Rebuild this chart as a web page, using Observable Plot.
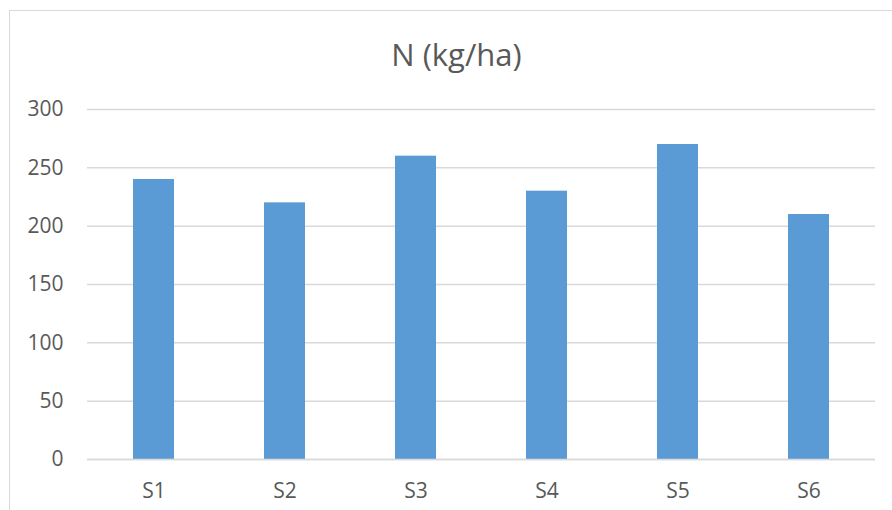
<!DOCTYPE html>
<html>
<head>
<meta charset="utf-8">
<script src="https://cdn.jsdelivr.net/npm/d3@7"></script>
<script src="https://cdn.jsdelivr.net/npm/@observablehq/plot@0.6"></script>
<style>
  body { margin: 0; background: #fff; }
  #wrap { position: relative; width: 892px; height: 510px; overflow: hidden; font-family: "Open Sans", "Liberation Sans", sans-serif; }
  #frame { position: absolute; left: 9px; top: 10px; width: 900px; height: 520px; border: 1px solid #d9d9d9; box-sizing: border-box; }
  #title { position: absolute; left: 0; width: 913px; top: 33px; text-align: center; font-size: 31px; line-height: normal; color: #595959; }
  #chart { position: absolute; left: 0; top: 0; }
</style>
</head>
<body>
<div id="wrap">
  <div id="frame"></div>
  <div id="chart"></div>
  <div id="title">N (kg/ha)</div>
</div>
<script>
const categories = ["S1", "S2", "S3", "S4", "S5", "S6"];
const values = [240, 220, 260, 230, 270, 210];
const yTicks = [0, 50, 100, 150, 200, 250, 300];

const data = categories.map((c, i) => ({cat: c, val: values[i]}));

const chart = Plot.plot({
  width: 892,
  height: 510,
  marginLeft: 87,
  marginRight: 17,
  marginTop: 109,
  marginBottom: 51,
  style: {fontFamily: '"Open Sans", "Liberation Sans", sans-serif', fontSize: "21px", color: "#595959", background: "transparent"},
  x: {domain: categories, paddingInner: 0.69, paddingOuter: 0.345, label: null, tickSize: 0, tickPadding: 24},
  y: {domain: [0, 300], ticks: yTicks, label: null, tickSize: 0, tickPadding: 24},
  marks: [
    Plot.gridY(yTicks, {stroke: "#d9d9d9", strokeOpacity: 1, strokeWidth: 1.5}),
    Plot.barY(data, {x: "cat", y: "val", fill: "#5b9bd5"}),
    Plot.ruleY([0], {stroke: "#d9d9d9", strokeWidth: 1.5})
  ]
});
document.getElementById("chart").appendChild(chart);
</script>
</body>
</html>
